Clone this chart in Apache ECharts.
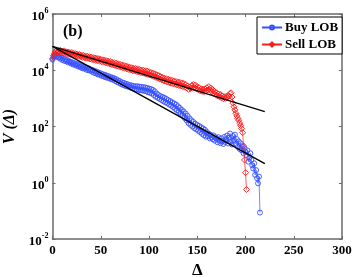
<!DOCTYPE html>
<html><head><meta charset="utf-8">
<script src="https://cdn.jsdelivr.net/npm/echarts@6/dist/echarts.min.js"></script>
<style>html,body{margin:0;padding:0;background:#fff}#c{width:354px;height:277px}</style>
</head><body><div id="c"></div>
<script>
// Buy LOB: log10 V(Δ) for Δ = 0,1,2,...,215
const buyLogV = [
4.38,4.46,4.50,4.55,4.49,4.52,4.45,4.47,4.41,4.45,
4.37,4.42,4.34,4.39,4.32,4.36,4.28,4.33,4.30,4.25,
4.29,4.21,4.26,4.19,4.23,4.16,4.21,4.13,4.18,4.11,
4.15,4.07,4.12,4.06,4.10,4.02,4.08,4.00,4.06,3.99,
4.02,3.95,4.00,3.91,3.97,3.89,3.95,3.85,3.91,3.84,
3.89,3.80,3.86,3.78,3.84,3.75,3.81,3.73,3.79,3.71,
3.76,3.68,3.74,3.66,3.71,3.62,3.68,3.58,3.64,3.55,
3.61,3.51,3.57,3.48,3.55,3.45,3.52,3.43,3.50,3.41,
3.47,3.38,3.46,3.36,3.44,3.33,3.43,3.32,3.43,3.31,
3.42,3.29,3.41,3.28,3.40,3.27,3.39,3.25,3.37,3.22,
3.35,3.20,3.33,3.17,3.30,3.12,3.25,3.06,3.17,3.02,
3.12,2.98,3.08,2.94,3.05,2.90,3.02,2.86,2.98,2.83,
2.94,2.78,2.90,2.74,2.86,2.69,2.82,2.63,2.78,2.58,
2.72,2.52,2.66,2.45,2.59,2.38,2.53,2.30,2.46,2.22,
2.38,2.12,2.29,2.06,2.22,2.00,2.16,1.94,2.10,1.90,
2.05,1.85,2.02,1.80,1.97,1.74,1.93,1.69,1.88,1.64,
1.80,1.66,1.74,1.58,1.70,1.61,1.55,1.68,1.50,1.62,
1.57,1.44,1.62,1.50,1.41,1.58,1.47,1.38,1.63,1.45,
1.55,1.68,1.40,1.60,1.75,1.46,1.36,1.66,1.52,1.71,
1.38,1.55,1.28,1.47,1.20,1.40,1.15,1.30,1.05,1.22,
1.10,0.99,1.15,0.75,0.90,1.05,0.81,0.62,0.51,0.69,
0.28,0.45,0.16,-0.02,0.22,-1.06];
const buyDelta = buyLogV.map((_, i) => i);
// Sell LOB: log10 V(Δ) for Δ = 0,1,2,...,201
const sellLogV = [
4.41,4.52,4.60,4.66,4.70,4.64,4.69,4.65,4.71,4.63,
4.68,4.62,4.69,4.60,4.66,4.59,4.65,4.57,4.63,4.56,
4.63,4.54,4.60,4.53,4.59,4.51,4.57,4.50,4.56,4.48,
4.54,4.46,4.53,4.45,4.51,4.43,4.50,4.42,4.48,4.40,
4.47,4.38,4.45,4.37,4.44,4.35,4.42,4.34,4.41,4.32,
4.39,4.30,4.37,4.29,4.36,4.27,4.34,4.25,4.32,4.23,
4.31,4.21,4.28,4.19,4.27,4.17,4.25,4.15,4.23,4.13,
4.21,4.11,4.19,4.09,4.17,4.07,4.15,4.05,4.13,4.03,
4.11,4.01,4.09,3.99,4.07,3.97,4.06,3.96,4.05,3.94,
4.03,3.92,4.01,3.91,4.00,3.89,3.98,3.87,3.97,3.85,
3.95,3.83,3.92,3.81,3.90,3.78,3.87,3.75,3.84,3.72,
3.81,3.69,3.78,3.66,3.75,3.63,3.72,3.61,3.70,3.58,
3.68,3.56,3.66,3.54,3.64,3.52,3.62,3.50,3.60,3.48,
3.58,3.46,3.57,3.44,3.55,3.42,3.53,3.40,3.50,3.37,
3.44,3.32,3.40,3.35,3.46,3.36,3.49,3.38,3.48,3.34,
3.42,3.31,3.38,3.27,3.34,3.25,3.33,3.24,3.34,3.26,
3.38,3.30,3.42,3.31,3.37,3.25,3.31,3.18,3.24,3.13,
3.20,3.09,3.16,3.06,3.14,3.02,3.09,2.99,3.06,3.00,
3.07,3.03,3.10,3.08,3.17,3.20,3.05,2.83,2.70,2.59,
2.47,2.38,2.29,2.22,2.12,2.03,1.93,1.78,1.31,0.81,
0.36,-0.24];
const sellDelta = sellLogV.map((_, i) => i);
// Fitted power-law lines: endpoints (Δ, log10 V)
const fitDelta = [0, 220];
const buyFitLogV = [4.85, 0.68];
const sellFitLogV = [4.85, 2.53];

const pairs = (xs, ls) => xs.map((x,i)=>[x, Math.pow(10, ls[i])]);
const SERIF = '"Liberation Serif","DejaVu Serif",serif';
const AXC = '#6a6a6a';
const BLUE = '#3550ff', RED = '#ff1a1a';
const chart = echarts.init(document.getElementById('c'), null, {renderer:'canvas'});
const yLab = v => { const e = Math.round(Math.log10(v)); return '{b|10}{e|' + e + '}'; };
chart.setOption({
  animation:false,
  grid:{left:52.5, right:12, top:14, bottom:38, containLabel:false, outerBoundsMode:'none'},
  legend:{
    left:257, top:17, orient:'vertical', itemGap:4, padding:[4,4,3,4],
    borderColor:'#000', borderWidth:1, backgroundColor:'#fff',
    itemWidth:20, itemHeight:5,
    data:['Buy LOB','Sell LOB'],
    textStyle:{fontFamily:SERIF, fontWeight:'bold', fontSize:13, color:'#000', padding:[0,0,0,-2]}
  },
  xAxis:[{
    type:'value', min:0, max:300, interval:50, position:'bottom',
    name:'Δ', nameLocation:'middle', nameGap:18,
    nameTextStyle:{fontFamily:SERIF, fontWeight:'bold', fontSize:17, color:'#000'},
    axisLine:{onZero:false, lineStyle:{color:AXC, width:1.5}},
    axisTick:{inside:true, length:3, lineStyle:{color:AXC}},
    axisLabel:{fontFamily:SERIF, fontWeight:'bold', fontSize:13, color:'#000', margin:5},
    splitLine:{show:false}
  },{
    type:'value', min:0, max:300, interval:50, position:'top',
    axisLine:{onZero:false, lineStyle:{color:AXC, width:1.5}},
    axisTick:{inside:true, length:3, lineStyle:{color:AXC}},
    axisLabel:{show:false}, splitLine:{show:false}
  }],
  yAxis:[{
    type:'log', logBase:10, min:0.01, max:1e6, interval:2, position:'left',
    name:'V (Δ)', nameLocation:'middle', nameGap:31, nameRotate:90,
    nameTextStyle:{fontFamily:SERIF, fontWeight:'bold', fontStyle:'italic', fontSize:16, color:'#000'},
    axisLine:{onZero:false, lineStyle:{color:AXC, width:1.5}},
    axisTick:{inside:true, length:3, lineStyle:{color:AXC}},
    axisLabel:{margin:4, formatter:yLab, rich:{
      b:{fontFamily:SERIF, fontWeight:'bold', fontSize:13, color:'#000', padding:[5,0,0,0]},
      e:{fontFamily:SERIF, fontWeight:'bold', fontSize:8, color:'#000', padding:[0,0,6,0]}
    }},
    splitLine:{show:false}, minorTick:{show:false}
  },{
    type:'log', logBase:10, min:0.01, max:1e6, interval:2, position:'right',
    axisLine:{onZero:false, lineStyle:{color:AXC, width:1.5}},
    axisTick:{inside:true, length:3, lineStyle:{color:AXC}},
    axisLabel:{show:false}, splitLine:{show:false}
  }],
  series:[
    {name:'Buy LOB', type:'line', data:pairs(buyDelta, buyLogV), symbol:'circle', symbolSize:5, showAllSymbol:true,
     itemStyle:{color:'rgba(255,255,255,0)', borderColor:BLUE, borderWidth:0.9},
     lineStyle:{color:BLUE, width:0.7}, z:2},
    {name:'Sell LOB', type:'line', data:pairs(sellDelta, sellLogV), symbol:'diamond', symbolSize:6, showAllSymbol:true,
     itemStyle:{color:'rgba(255,255,255,0)', borderColor:RED, borderWidth:0.9},
     lineStyle:{color:RED, width:0.7}, z:3},
    {type:'line', data:pairs(fitDelta, buyFitLogV), symbol:'none', lineStyle:{color:'#000', width:1.3}, z:4, silent:true},
    {type:'line', data:pairs(fitDelta, sellFitLogV), symbol:'none', lineStyle:{color:'#000', width:1.3}, z:4, silent:true}
  ],
  graphic:[{type:'text', left:63, top:24, style:{text:'(b)', font:'bold 16px "Liberation Serif"', fill:'#000'}}]
});
</script></body></html>
